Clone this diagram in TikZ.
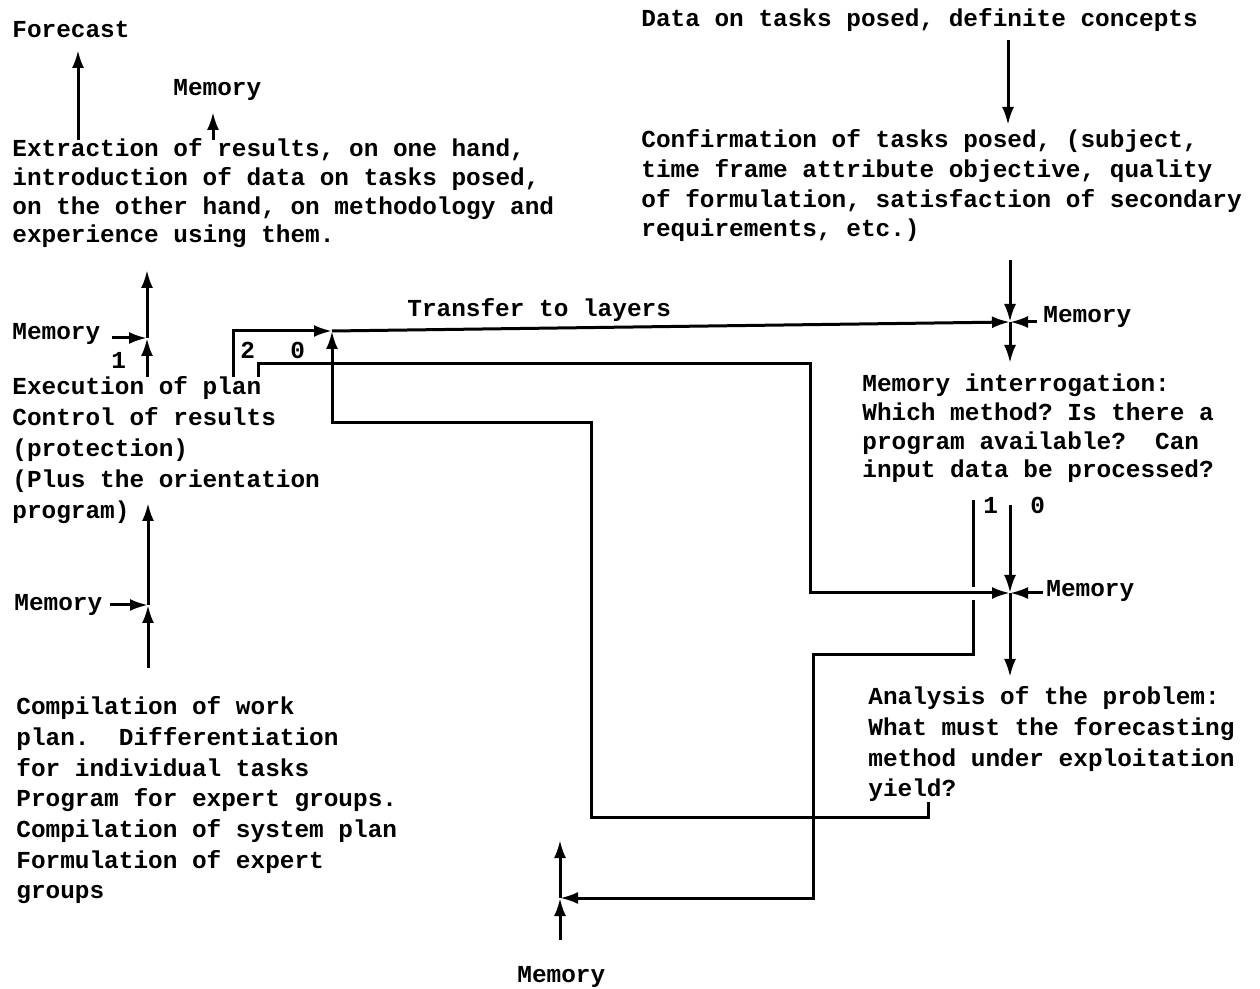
\documentclass[tikz,border=0pt]{standalone}
\usepackage{fontspec}
\setmonofont{Liberation Mono}
\usetikzlibrary{arrows.meta}
\begin{document}
\begin{tikzpicture}[
  x=0.5pt, y=-0.5pt,
  txt/.style={font=\ttfamily\bfseries\fontsize{12.2}{#1}\selectfont, align=left, inner sep=0pt, anchor=base west},
  txt/.default=15,
  lbl/.style={font=\ttfamily\bfseries\fontsize{12.2}{15}\selectfont, inner sep=0pt, anchor=base west},
  wire/.style={line width=1.5pt},
  flow/.style={line width=1.5pt, -{Latex[length=9pt,width=6pt]}}
]
\useasboundingbox (0,0) rectangle (1260,989);
\node[lbl] (forecast) at (12,38) {Forecast};
\node[lbl] (memtop) at (173,96) {Memory};
\node[txt=14.35] (extract) at (12,243) {Extraction of results, on one hand,\\
  introduction of data on tasks posed,\\on the other hand, on methodology and\\experience using them.};
\node[lbl] (memup) at (12,340) {Memory};
\node[lbl] (one) at (111,369) {1};
\node[txt=15.5] (exec) at (12,519) {Execution of plan\\Control of results\\(protection)\\
  (Plus the orientation\\program)};
\node[lbl] (memlow) at (14,611) {Memory};
\node[txt=15.35] (compile) at (16,899) {Compilation of work\\plan.\ \ Differentiation\\
  for individual tasks\\Program for expert groups.\\Compilation of system plan\\
  Formulation of expert\\groups};
\node[lbl] (two) at (240,359) {2};
\node[lbl] (zero) at (290,359) {0};
\node[lbl] (transfer) at (407,317) {Transfer to layers};
\node[lbl] (data) at (641,27) {Data on tasks posed, definite concepts};
\node[txt=14.85] (confirm) at (641,237) {Confirmation of tasks posed, (subject,\\
  time frame attribute objective, quality\\of formulation, satisfaction of secondary\\
  requirements, etc.)};
\node[lbl] (memright) at (1043,323) {Memory};
\node[txt=14.35] (interr) at (862,478) {Memory interrogation:\\Which method? Is there a\\
  program available?\ \ Can\\input data be processed?};
\node[lbl] (yes) at (983,514) {1};
\node[lbl] (no) at (1030,514) {0};
\node[lbl] (memmid) at (1046,597) {Memory};
\node[txt=15.35] (analysis) at (868,797) {Analysis of the problem:\\What must the forecasting\\
  method under exploitation\\yield?};
\node[lbl] (membot) at (517,982) {Memory};
\coordinate (jA) at (147,338);
\coordinate (jB) at (148,605);
\coordinate (jC) at (332,331);
\coordinate (jD) at (1010,322);
\coordinate (jE) at (1010,593);
\coordinate (jF) at (560,898);
\coordinate (exfoot) at (78,140);
\coordinate (fchead) at (78,50);
\coordinate (mtfoot) at (213,140);
\coordinate (mthead) at (213,112);
\coordinate (exbase) at (147,377);
\coordinate (exhead) at (147,270);
\coordinate (mua) at (112,338);
\coordinate (cmpbase) at (148,668);
\coordinate (exechead) at (148,503);
\coordinate (mla) at (110,605);
\coordinate (twofoot) at (233,377);
\coordinate (zerofoot) at (258,377);
\coordinate (zbend) at (810,364);
\coordinate (anfoot) at (928,802);
\coordinate (lpA) at (591,818);
\coordinate (lpB) at (591,423);
\coordinate (cffoot) at (1010,260);
\coordinate (mra) at (1037,322);
\coordinate (ithead) at (1010,363);
\coordinate (dtfoot) at (1008,40);
\coordinate (cfhead) at (1008,125);
\coordinate (nofoot) at (1010,505);
\coordinate (mma) at (1043,593);
\coordinate (anhead) at (1010,677);
\coordinate (yesfoot) at (973,500);
\coordinate (gapA) at (973,587);
\coordinate (gapB) at (973,600);
\coordinate (ysbend) at (813,655);
\coordinate (mbfoot) at (560,940);
\coordinate (jfhead) at (560,840);
\draw[flow] (exfoot) -- (fchead);
\draw[flow] (mtfoot) -- (mthead);
\draw[flow] (exbase) -- (jA);
\draw[flow] (jA) -- (exhead);
\draw[flow] (mua) -- (jA);
\draw[flow] (cmpbase) -- (jB);
\draw[flow] (jB) -- (exechead);
\draw[flow] (mla) -- (jB);
\draw[flow] (twofoot) |- (jC);
\draw[flow] (jC) -- (jD);
\draw[flow] (zerofoot) |- (zbend) |- (jE);
\draw[flow] (anfoot) |- (lpA) -- (lpB) -| (jC);
\draw[flow] (dtfoot) -- (cfhead);
\draw[flow] (cffoot) -- (jD);
\draw[flow] (mra) -- (jD);
\draw[flow] (jD) -- (ithead);
\draw[flow] (nofoot) -- (jE);
\draw[flow] (mma) -- (jE);
\draw[flow] (jE) -- (anhead);
\draw[wire] (yesfoot) -- (gapA);
\draw[flow] (gapB) |- (ysbend) |- (jF);
\draw[flow] (mbfoot) -- (jF);
\draw[flow] (jF) -- (jfhead);
\end{tikzpicture}
\end{document}
